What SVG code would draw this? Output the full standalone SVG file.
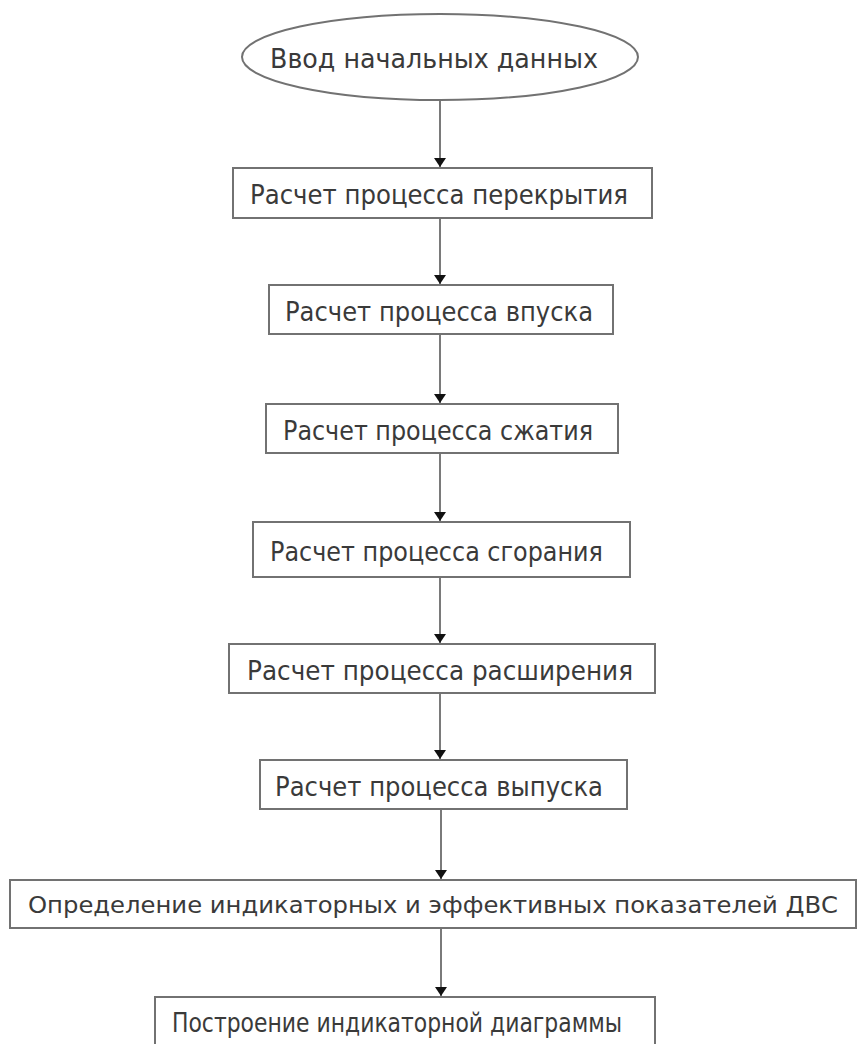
<svg xmlns="http://www.w3.org/2000/svg" width="860" height="1044" viewBox="0 0 860 1044">
<style>
.n{fill:#fff;stroke:#727272;stroke-width:2}
.t{font-family:"DejaVu Sans","Liberation Sans",sans-serif;font-size:27px;fill:#3a3a3a}
.c{stroke:#7a7a7a;stroke-width:2;fill:none}
</style>
<defs>
<marker id="ah" markerUnits="userSpaceOnUse" markerWidth="10" markerHeight="12" refX="9" refY="6" orient="auto" viewBox="0 0 10 12">
<path d="M0,0 L9,6 L0,12 Z" fill="#111"/>
</marker>
</defs>
<rect width="860" height="1044" fill="#fff"/>
<g id="connectors">
<line class="c" x1="440" y1="100" x2="440" y2="167" marker-end="url(#ah)"/>
<line class="c" x1="440" y1="218" x2="440" y2="284" marker-end="url(#ah)"/>
<line class="c" x1="440" y1="334" x2="440" y2="403" marker-end="url(#ah)"/>
<line class="c" x1="440" y1="453" x2="440" y2="521" marker-end="url(#ah)"/>
<line class="c" x1="440" y1="577" x2="440" y2="643" marker-end="url(#ah)"/>
<line class="c" x1="440" y1="693" x2="440" y2="759" marker-end="url(#ah)"/>
<line class="c" x1="441" y1="809" x2="441" y2="879" marker-end="url(#ah)"/>
<line class="c" x1="441" y1="928" x2="441" y2="996" marker-end="url(#ah)"/>
</g>
<g id="n0">
<ellipse class="n" cx="440" cy="57" rx="198" ry="43" stroke="#8a8a8a" stroke-width="1.5"/>
<text class="t" x="270" y="68" textLength="328" lengthAdjust="spacingAndGlyphs">Ввод начальных данных</text>
</g>
<g id="n1">
<rect class="n" x="233" y="168" width="419" height="50"/>
<text class="t" x="250" y="204" textLength="378" lengthAdjust="spacingAndGlyphs">Расчет процесса перекрытия</text>
</g>
<g id="n2">
<rect class="n" x="269" y="285" width="344" height="49"/>
<text class="t" x="285" y="321" textLength="308" lengthAdjust="spacingAndGlyphs">Расчет процесса впуска</text>
</g>
<g id="n3">
<rect class="n" x="266" y="404" width="352" height="49"/>
<text class="t" x="283" y="440" textLength="310" lengthAdjust="spacingAndGlyphs">Расчет процесса сжатия</text>
</g>
<g id="n4">
<rect class="n" x="253" y="522" width="377" height="55"/>
<text class="t" x="270" y="561" textLength="333" lengthAdjust="spacingAndGlyphs">Расчет процесса сгорания</text>
</g>
<g id="n5">
<rect class="n" x="229" y="644" width="426" height="49"/>
<text class="t" x="247" y="680" textLength="386" lengthAdjust="spacingAndGlyphs">Расчет процесса расширения</text>
</g>
<g id="n6">
<rect class="n" x="260" y="760" width="367" height="49"/>
<text class="t" x="275" y="796" textLength="328" lengthAdjust="spacingAndGlyphs">Расчет процесса выпуска</text>
</g>
<g id="n7">
<rect class="n" x="10" y="880" width="846" height="48"/>
<text class="t" x="28" y="913" textLength="810" lengthAdjust="spacingAndGlyphs" style="font-size:23px">Определение индикаторных и эффективных показателей ДВС</text>
</g>
<g id="n8">
<rect class="n" x="155" y="997" width="500" height="60"/>
<text class="t" x="172" y="1032" textLength="450" lengthAdjust="spacingAndGlyphs">Построение индикаторной диаграммы</text>
</g>
</svg>
